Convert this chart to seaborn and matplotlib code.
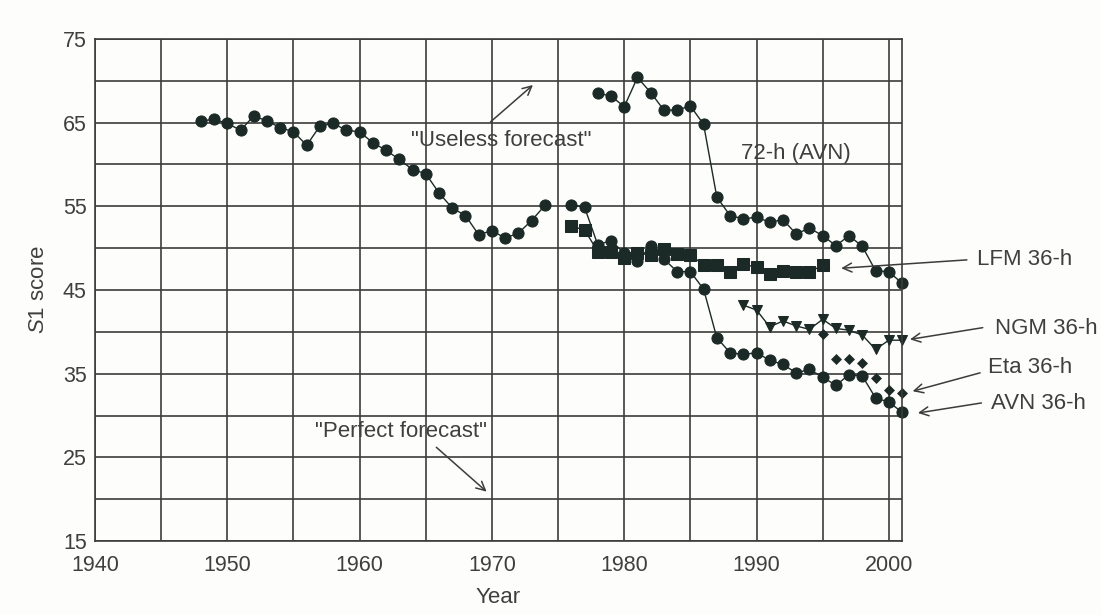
"""Recreate the S1 score history chart (NMC/NCEP 36-h and 72-h forecasts)."""

import matplotlib

matplotlib.use("Agg")
import matplotlib.pyplot as plt
import numpy as np
import pandas as pd
import seaborn as sns

# --- data ------------------------------------------------------------------
early_years = list(range(1948, 1975))
early_s1 = [65.2, 65.4, 64.9, 64.1, 65.8, 65.2, 64.4, 63.9, 62.3, 64.6,
            64.9, 64.1, 63.9, 62.6, 61.7, 60.6, 59.4, 58.9, 56.6, 54.8,
            53.9, 51.6, 52.1, 51.2, 51.8, 53.3, 55.1]

avn36_years = list(range(1976, 2002))
avn36_s1 = [55.2, 54.9, 50.4, 50.9, 49.4, 48.5, 50.2, 48.7, 47.2, 47.2,
            45.1, 39.3, 37.5, 37.3, 37.5, 36.6, 36.1, 35.1, 35.5, 34.6,
            33.6, 34.9, 34.7, 32.1, 31.6, 30.4]

lfm_years = list(range(1976, 1996))
lfm_s1 = [52.6, 52.2, 49.6, 49.6, 48.8, 49.4, 49.2, 49.9, 49.3, 49.2,
          48.0, 48.0, 47.1, 48.1, 47.7, 46.9, 47.3, 47.1, 47.1, 48.0]

avn72_years = list(range(1978, 2002))
avn72_s1 = [68.5, 68.2, 66.9, 70.4, 68.6, 66.5, 66.5, 67.0, 64.8, 56.1,
            53.9, 53.5, 53.7, 53.1, 53.4, 51.7, 52.4, 51.5, 50.3, 51.5,
            50.2, 47.3, 47.2, 45.8]

ngm_years = list(range(1989, 2002))
ngm_s1 = [43.2, 42.6, 40.6, 41.3, 40.7, 40.3, 41.5, 40.4, 40.2, 39.6,
          37.9, 39.0, 39.0]

eta_years = list(range(1995, 2002))
eta_s1 = [39.7, 36.7, 36.7, 36.3, 34.5, 33.0, 32.7]

x_ticks = [1940, 1950, 1960, 1970, 1980, 1990, 2000]
y_ticks = [15, 25, 35, 45, 55, 65, 75]

INK = "#1b2a26"
GRID = "#3c3c3c"
TEXT = "#3f3f3f"


def configure_style() -> None:
    sns.set_theme(style="white")
    plt.rcParams.update(
        {
            "font.family": ["Liberation Sans", "DejaVu Sans"],
            "mathtext.fontset": "custom",
            "mathtext.it": "Liberation Sans:italic",
            "mathtext.rm": "Liberation Sans",
            "axes.edgecolor": GRID,
            "text.color": TEXT,
            "xtick.color": TEXT,
            "ytick.color": TEXT,
            "axes.labelcolor": TEXT,
        }
    )


def draw_series(ax, years, values, marker, size, line=True) -> None:
    frame = pd.DataFrame({"Year": years, "S1": values})
    if line:
        sns.lineplot(data=frame, x="Year", y="S1", ax=ax, color=INK,
                     linewidth=1.0, marker=marker, markersize=size,
                     markeredgecolor=INK, markerfacecolor=INK,
                     estimator=None, sort=False, clip_on=False)
    else:
        sns.scatterplot(data=frame, x="Year", y="S1", ax=ax, color=INK,
                        marker=marker, s=size ** 2, edgecolor=INK, linewidth=0,
                        clip_on=False)


def main() -> None:
    configure_style()
    fig = plt.figure(figsize=(11.01, 6.15), dpi=100, facecolor="#fdfdfb")
    ax = fig.add_axes([0.0863, 0.1203, 0.733, 0.8163])
    ax.set_facecolor("#fdfdfb")

    draw_series(ax, early_years, early_s1, "o", 8.0)
    draw_series(ax, avn36_years, avn36_s1, "o", 8.0)
    draw_series(ax, avn72_years, avn72_s1, "o", 8.0)
    draw_series(ax, lfm_years, lfm_s1, "s", 8.0)
    draw_series(ax, ngm_years, ngm_s1, "v", 7.4)
    draw_series(ax, eta_years, eta_s1, "D", 5.6, line=False)

    ax.set_xlim(1940, 2001)
    ax.set_ylim(15, 75)
    ax.set_xticks(x_ticks)
    ax.set_yticks(y_ticks)
    ax.set_xticks(np.arange(1945, 2001, 10), minor=True)
    ax.set_yticks(np.arange(20, 75, 10), minor=True)
    ax.grid(which="both", color=GRID, linewidth=1.2)
    ax.set_axisbelow(True)
    ax.tick_params(which="both", length=0, labelsize=15.5)
    ax.tick_params(axis="x", pad=10)
    ax.tick_params(axis="y", pad=6)
    for spine in ax.spines.values():
        spine.set_linewidth(1.2)

    ax.set_xlabel("Year", fontsize=16, labelpad=8)
    ax.set_ylabel(r"$S$1 score", fontsize=16, labelpad=10)

    arrow = dict(arrowstyle="->", color=GRID, linewidth=1.1,
                 shrinkA=0, shrinkB=0, mutation_scale=16)

    ax.text(1970.7, 62.9, '"Useless forecast"', ha="center", va="center", fontsize=16)
    ax.annotate("", xy=(1973.1, 69.5), xytext=(1969.9, 65.1), arrowprops=arrow)
    ax.text(1963.1, 28.1, '"Perfect forecast"', ha="center", va="center", fontsize=16)
    ax.annotate("", xy=(1969.6, 20.9), xytext=(1965.8, 26.2), arrowprops=arrow)
    ax.text(1993.0, 61.3, "72-h (AVN)", ha="center", va="center", fontsize=16)

    side_labels = [
        ("LFM 36-h", (2006.7, 48.6), (2005.9, 48.6), (1996.4, 47.6)),
        ("NGM 36-h", (2008.0, 40.4), (2007.1, 40.5), (2001.6, 39.1)),
        ("Eta 36-h", (2007.5, 35.7), (2006.9, 35.1), (2001.8, 32.9)),
        ("AVN 36-h", (2007.7, 31.4), (2007.0, 31.5), (2002.2, 30.3)),
    ]
    for label, text_pos, tail, head in side_labels:
        ax.text(*text_pos, label, ha="left", va="center", fontsize=16, clip_on=False)
        ax.annotate("", xy=head, xytext=tail, arrowprops=arrow, annotation_clip=False)

    fig.savefig("out.png", dpi=100, facecolor=fig.get_facecolor())
    plt.close(fig)


if __name__ == "__main__":
    main()
